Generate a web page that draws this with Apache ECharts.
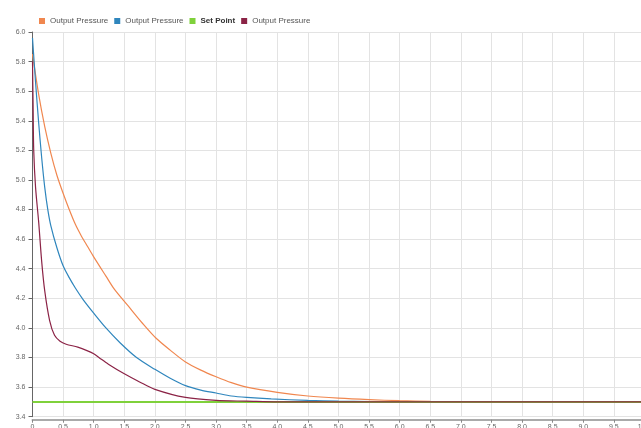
<!DOCTYPE html>
<html>
<head>
<meta charset="utf-8">
<script src="https://cdn.jsdelivr.net/npm/echarts@6/dist/echarts.min.js"></script>
<style>
html,body{margin:0;padding:0;background:#fff;}
#chart{width:641px;height:428px;}
</style>
</head>
<body>
<div id="chart"></div>
<script>
// ---- data ----
const seriesNames = ['Output Pressure 1', 'Output Pressure 2', 'Set Point', 'Output Pressure 3'];

const orangeX = [0, 0.1, 0.2, 0.3, 0.4, 0.5, 0.6, 0.7, 0.8, 0.9, 1.0, 1.2, 1.34, 1.56, 1.8, 2.02, 2.25, 2.5, 2.75, 3.0, 3.25, 3.5, 4.0, 4.5, 5.0, 5.5, 6.0, 6.5, 7.0, 8.0, 9.0, 10.0];
const orangeY = [5.85, 5.58, 5.36, 5.18, 5.03, 4.91, 4.80, 4.70, 4.62, 4.55, 4.48, 4.35, 4.26, 4.15, 4.03, 3.93, 3.85, 3.77, 3.715, 3.67, 3.63, 3.60, 3.565, 3.54, 3.525, 3.515, 3.508, 3.504, 3.502, 3.5, 3.5, 3.5];

const blueX = [0, 0.05, 0.1, 0.15, 0.2, 0.25, 0.3, 0.4, 0.5, 0.6, 0.7, 0.83, 1.0, 1.2, 1.43, 1.7, 2.0, 2.25, 2.5, 2.75, 3.0, 3.25, 3.5, 3.9, 4.5, 5.0, 5.5, 6.0, 8.0, 10.0];
const blueY = [5.96, 5.66, 5.39, 5.15, 4.95, 4.80, 4.69, 4.54, 4.42, 4.34, 4.27, 4.19, 4.10, 4.00, 3.90, 3.80, 3.72, 3.66, 3.61, 3.58, 3.56, 3.54, 3.53, 3.52, 3.51, 3.505, 3.502, 3.5, 3.5, 3.5];

const setX = [0, 10];
const setY = [3.5, 3.5];

const purpleX = [0, 0.01, 0.02, 0.05, 0.1, 0.15, 0.2, 0.28, 0.36, 0.45, 0.55, 0.74, 0.9, 1.0, 1.1, 1.24, 1.5, 1.75, 2.0, 2.5, 3.0, 3.5, 4.0, 6.0, 8.0, 10.0];
const purpleY = [5.8, 5.5, 5.2, 4.95, 4.72, 4.45, 4.25, 4.05, 3.95, 3.91, 3.89, 3.87, 3.845, 3.825, 3.795, 3.755, 3.69, 3.635, 3.585, 3.53, 3.51, 3.505, 3.5, 3.5, 3.5, 3.5];

const colors = ['#f0874f', '#2f86bd', '#7fd13b', '#8b2346'];

const zip = (xs, ys) => xs.map((x, i) => [x, ys[i]]);

const chart = echarts.init(document.getElementById('chart'), null, {renderer: 'canvas'});
chart.setOption({
  animation: false,
  backgroundColor: '#fff',
  color: colors,
  legend: {
    left: 34, top: 12,
    icon: 'rect', itemWidth: 6, itemHeight: 6, itemGap: 6,
    data: [
      {name: seriesNames[0]},
      {name: seriesNames[1]},
      {name: seriesNames[2], textStyle: {fontWeight: 'bold', color: '#333'}},
      {name: seriesNames[3]}
    ],
    formatter: n => n.replace(/ \d$/, ''),
    textStyle: {fontSize: 8, color: '#555', fontFamily: 'Liberation Sans, Arial, sans-serif'}
  },
  grid: {left: 32.5, right: -3.5, top: 32, bottom: 11.3, containLabel: false, outerBoundsMode: 'none'},
  xAxis: {
    type: 'value', min: 0, max: 10, interval: 0.5, offset: 3,
    axisLine: {show: true, lineStyle: {color: '#aaa', width: 2}},
    axisTick: {show: true, length: 3, lineStyle: {color: '#888'}},
    axisLabel: {fontSize: 7, color: '#666', margin: 4, formatter: v => v === 0 ? '0' : v.toFixed(1), fontFamily: 'Liberation Sans, Arial, sans-serif'},
    splitLine: {show: true, lineStyle: {color: '#e3e3e3', width: 1}}
  },
  yAxis: {
    type: 'value', min: 3.4, max: 6.0, interval: 0.2,
    axisLine: {show: true, lineStyle: {color: '#666', width: 1}},
    axisTick: {show: true, length: 4, lineStyle: {color: '#666'}},
    axisLabel: {fontSize: 7, color: '#666', margin: 7, formatter: v => v.toFixed(1), fontFamily: 'Liberation Sans, Arial, sans-serif'},
    splitLine: {show: true, lineStyle: {color: '#e3e3e3', width: 1}}
  },
  series: [
    {name: seriesNames[0], type: 'line', data: zip(orangeX, orangeY), showSymbol: false, smooth: 0.3, lineStyle: {width: 1.2, color: colors[0]}},
    {name: seriesNames[1], type: 'line', data: zip(blueX, blueY), showSymbol: false, smooth: 0.3, lineStyle: {width: 1.2, color: colors[1]}},
    {name: seriesNames[2], type: 'line', data: zip(setX, setY), showSymbol: false, lineStyle: {width: 2, color: colors[2]}},
    {name: seriesNames[3], type: 'line', data: zip(purpleX, purpleY), showSymbol: false, smooth: 0.3, lineStyle: {width: 1.2, color: colors[3]}}
  ]
});
</script>
</body>
</html>
